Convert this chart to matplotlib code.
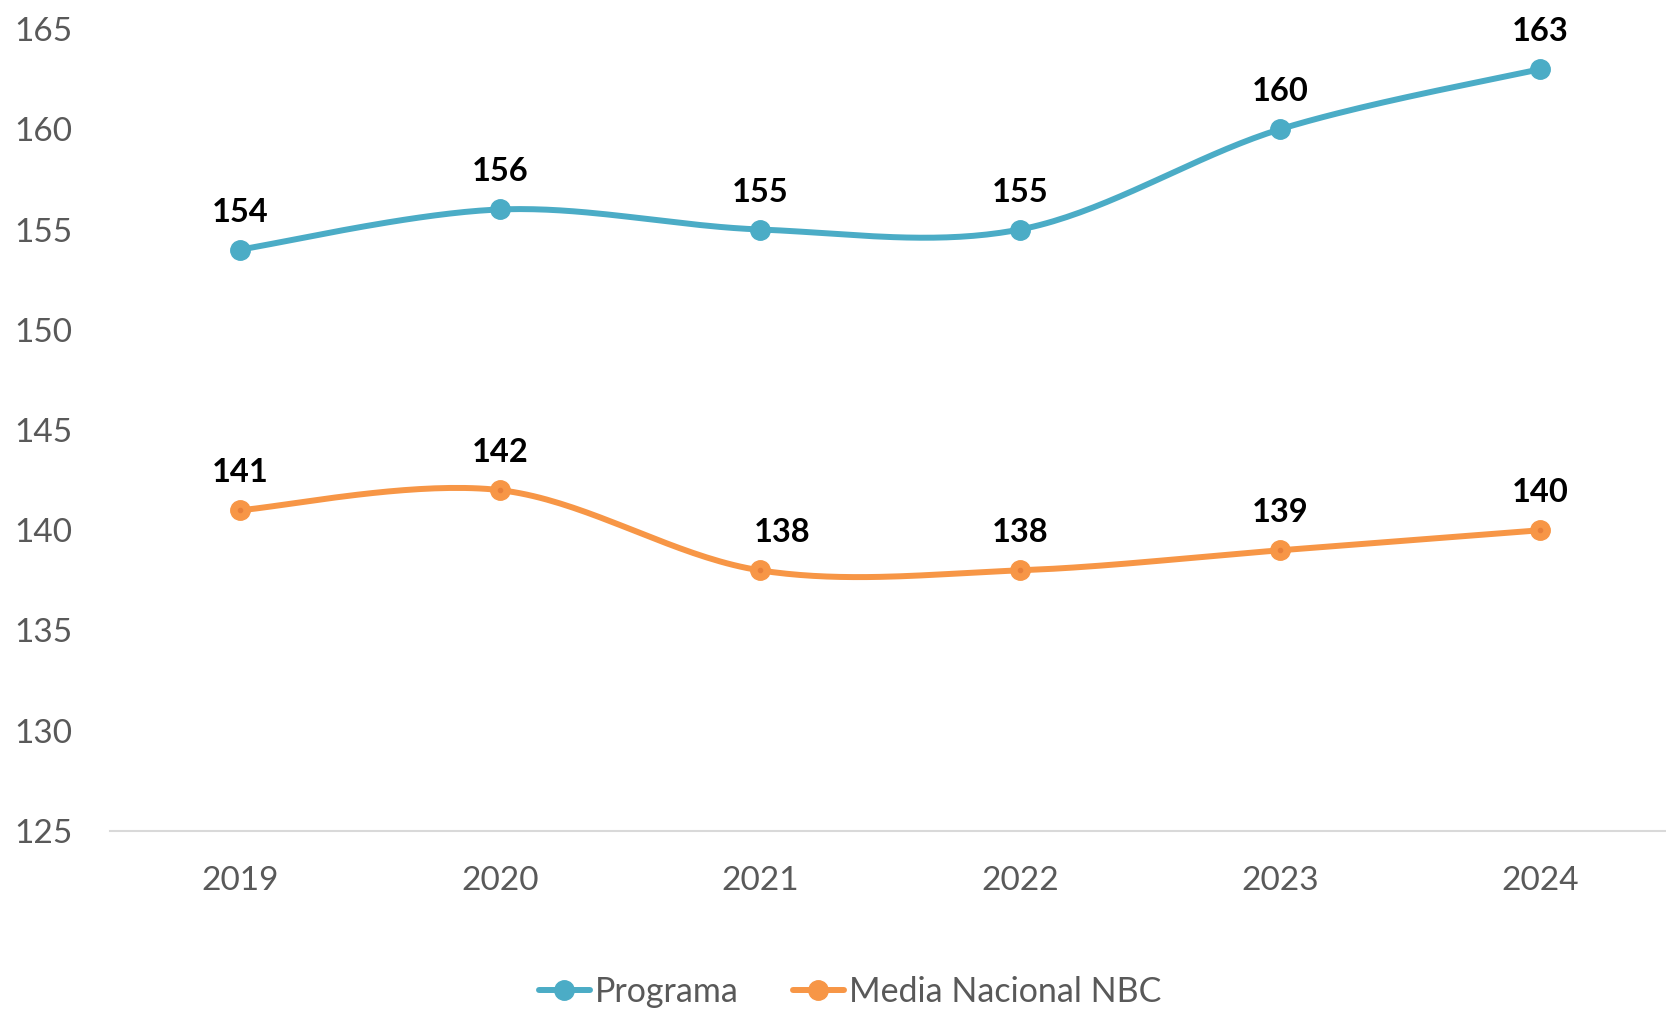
import matplotlib
matplotlib.use("Agg")
import matplotlib.pyplot as plt
import numpy as np

years = ["2019", "2020", "2021", "2022", "2023", "2024"]
programa = [154, 156, 155, 155, 160, 163]
media_nbc = [141, 142, 138, 138, 139, 140]

BLUE = "#4BACC6"
ORANGE = "#F79646"
GREY = "#595959"

plt.rcParams["font.family"] = ["Lato", "DejaVu Sans"]


def smooth(xs, ys, n=40):
    # Catmull-Rom style bezier, like spreadsheet "smoothed line"
    pts = np.column_stack([xs, ys]).astype(float)
    out = []
    for i in range(len(pts) - 1):
        p0 = pts[max(i - 1, 0)]
        p1 = pts[i]
        p2 = pts[i + 1]
        p3 = pts[min(i + 2, len(pts) - 1)]
        c1 = p1 + (p2 - p0) / 6
        c2 = p2 - (p3 - p1) / 6
        t = np.linspace(0, 1, n)[:, None]
        seg = ((1 - t) ** 3 * p1 + 3 * (1 - t) ** 2 * t * c1
               + 3 * (1 - t) * t ** 2 * c2 + t ** 3 * p2)
        out.append(seg if i == 0 else seg[1:])
    seg = np.vstack(out)
    return seg[:, 0], seg[:, 1]


fig = plt.figure(figsize=(16.66, 10.09), dpi=100)
ax = fig.add_axes([110 / 1666, 178 / 1009, 1560 / 1666, 802 / 1009])

x = np.arange(len(years))
handles = []
for vals, col, name in [(programa, BLUE, "Programa"), (media_nbc, ORANGE, "Media Nacional NBC")]:
    sx, sy = smooth(x, vals)
    ax.plot(sx, sy, color=col, lw=4.3, solid_capstyle="round", zorder=2)
    ax.plot(x, vals, "o", color=col, ms=14, zorder=3)
    if col == ORANGE:
        ax.plot(x, vals, "o", color="#E8803A", ms=3, zorder=4)
    h, = ax.plot([], [], color=col, lw=4.3, marker="o", ms=14, solid_capstyle="round")
    handles.append((h, name))

# small nudge for the label that would sit on the curve
nudge = {(1, 2): 22}
for k, vals in enumerate([programa, media_nbc]):
    for i, v in enumerate(vals):
        ax.annotate(str(v), (x[i], v), xytext=(nudge.get((k, i), 0) * 0.72, 27),
                    textcoords="offset points", ha="center", va="center",
                    fontsize=23.5, fontweight="bold", color="black", zorder=5)

ax.set_xlim(-0.5, 5.5)
ax.set_ylim(125, 165)
ax.set_yticks(np.arange(125, 166, 5))
ax.set_xticks(x)
ax.set_xticklabels(years)
ax.tick_params(axis="both", length=0, labelsize=24, labelcolor=GREY)
ax.tick_params(axis="x", pad=25)
ax.tick_params(axis="y", pad=27)
for s in ["top", "right", "left"]:
    ax.spines[s].set_visible(False)
ax.spines["bottom"].set_color("#D9D9D9")
ax.spines["bottom"].set_linewidth(1.5)

fig.legend([h for h, _ in handles], [n for _, n in handles], loc="center",
           bbox_to_anchor=(850 / 1666, 1 - 992 / 1009), ncol=2, frameon=False,
           fontsize=24.5, labelcolor=GREY, handlelength=1.5, handletextpad=0.15,
           columnspacing=1.6, borderpad=0)

fig.savefig("out.png", dpi=100)
